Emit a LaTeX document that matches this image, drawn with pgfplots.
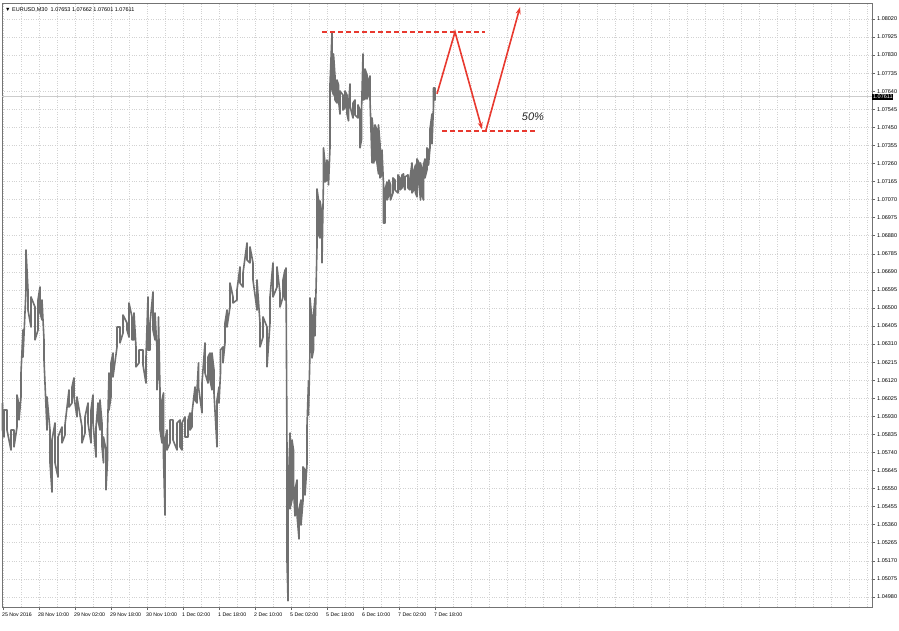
\documentclass[border=0pt]{standalone}
\usepackage{fontspec}
\setmainfont{Liberation Sans}
\usepackage{pgfplots}
\usepackage{pgfplotstable}
\pgfplotsset{compat=1.18}
\usetikzlibrary{arrows.meta}
\definecolor{barc}{HTML}{707070}
\definecolor{ann}{HTML}{E8392F}
\definecolor{grd}{HTML}{D2D2D2}
\pgfplotstableread{
x y
2.5 1.06000
2.5 1.05858
4 1.05821
4 1.05963
7 1.05963
7 1.05858
11 1.05753
11 1.05858
14 1.05858
14 1.05769
17 1.05874
17 1.06042
19 1.05990
19 1.05911
21 1.06032
21 1.06158
23 1.06384
23 1.06242
26 1.06595
26 1.06805
28 1.06595
28 1.06489
31 1.06400
31 1.06558
35 1.06505
35 1.06332
38 1.06384
38 1.06542
40 1.06610
40 1.06474
42 1.06437
42 1.06542
44 1.06332
44 1.06226
47 1.05858
47 1.06032
50 1.05858
50 1.05685
52 1.05532
52 1.05806
55 1.05895
55 1.05685
58 1.05611
58 1.05821
62 1.05874
62 1.05790
65 1.05832
65 1.05885
69 1.06069
69 1.05979
72 1.06000
72 1.06084
74 1.06132
74 1.06032
77 1.05927
77 1.06032
82 1.05874
82 1.05790
85 1.05842
85 1.05927
88 1.06000
88 1.05895
91 1.05790
91 1.05963
93 1.06042
93 1.05895
96 1.05716
96 1.05874
98 1.06000
98 1.05911
100 1.05858
100 1.06016
102 1.05895
102 1.05769
103.5 1.05685
103.5 1.05821
106 1.05753
106 1.05543
107.5 1.05700
107.5 1.05858
109 1.06158
109 1.05963
111 1.06032
111 1.06211
113 1.06263
113 1.06137
117 1.06295
117 1.06400
120 1.06400
120 1.06316
123 1.06368
123 1.06463
127 1.06421
127 1.06384
129 1.06347
129 1.06526
132 1.06453
132 1.06332
134 1.06332
134 1.06474
136 1.06295
136 1.06190
139 1.06211
139 1.06279
143 1.06279
143 1.06200
146 1.06105
146 1.06242
148 1.06558
148 1.06279
150 1.06279
150 1.06421
153 1.06584
153 1.06384
155 1.06332
155 1.06474
157 1.06279
157 1.06069
158.5 1.06174
158.5 1.06453
160 1.06069
160 1.05858
162 1.05790
162 1.06016
163.5 1.06053
163.5 1.05716
165 1.05411
165 1.05806
167 1.05858
167 1.05753
170 1.05790
170 1.05911
173 1.05911
173 1.05806
177 1.05753
177 1.05895
180 1.05911
180 1.05769
182 1.05753
182 1.05895
185 1.05927
185 1.05821
188 1.05821
188 1.05911
190 1.05948
190 1.05858
192 1.05874
192 1.05948
195 1.06084
195 1.06016
197 1.06000
197 1.06069
198.5 1.06211
198.5 1.06084
202 1.05948
202 1.06105
205 1.06316
205 1.06158
208 1.06105
208 1.06242
210 1.06263
210 1.06121
212 1.06069
212 1.06263
214 1.06174
214 1.06053
217 1.05769
217 1.06016
219 1.06084
219 1.06000
220.5 1.06158
220.5 1.06279
223 1.06295
223 1.06211
225 1.06316
225 1.06421
227 1.06489
227 1.06400
230 1.06505
230 1.06631
233 1.06558
233 1.06526
237 1.06542
237 1.06595
240 1.06716
240 1.06631
243 1.06610
243 1.06684
247 1.06842
247 1.06752
250 1.06737
250 1.06821
253 1.06737
253 1.06647
257 1.06489
257 1.06647
260 1.06421
260 1.06295
263 1.06347
263 1.06453
267 1.06400
267 1.06190
270 1.06421
270 1.06558
273 1.06737
273 1.06558
277 1.06610
277 1.06716
280 1.06579
280 1.06505
283 1.06558
283 1.06647
285 1.06700
285 1.06542
286 1.06589
286 1.06710
287 1.05742
287 1.05169
288 1.04959
288 1.05490
290 1.05842
290 1.05443
292 1.05490
292 1.05806
293.5 1.05753
293.5 1.05543
295 1.05406
295 1.05543
297 1.05595
297 1.05411
299 1.05285
299 1.05443
301 1.05490
301 1.05358
303 1.05485
303 1.05664
305 1.05648
305 1.05516
307 1.05679
307 1.05879
308.5 1.06116
308.5 1.05937
310 1.06274
310 1.06553
312 1.06432
312 1.06237
313.5 1.06279
313.5 1.06463
315 1.06553
315 1.06353
317 1.06826
317 1.07126
318.5 1.07068
318.5 1.06884
320 1.06868
320 1.07063
322 1.06989
322 1.06737
323.5 1.07184
323.5 1.07342
325 1.07263
325 1.07163
327 1.07173
327 1.07278
328.5 1.07252
328.5 1.07147
330 1.07342
330 1.07678
332 1.07946
332 1.07647
333.5 1.07620
333.5 1.07836
335 1.07720
335 1.07594
337 1.07578
337 1.07699
338.5 1.07673
338.5 1.07594
340 1.07520
340 1.07641
343 1.07620
343 1.07541
345 1.07552
345 1.07641
347 1.07620
347 1.07520
348.5 1.07484
348.5 1.07562
350 1.07678
350 1.07562
353 1.07499
353 1.07578
355 1.07594
355 1.07515
358 1.07499
358 1.07568
360 1.07541
360 1.07342
361.5 1.07384
361.5 1.07531
363 1.07836
363 1.07594
365 1.07599
365 1.07757
367 1.07726
367 1.07599
368.5 1.07620
368.5 1.07699
370 1.07720
370 1.07599
372 1.07263
372 1.07499
373.5 1.07420
373.5 1.07263
375 1.07278
375 1.07463
377 1.07436
377 1.07263
378.5 1.07205
378.5 1.07463
380 1.07363
380 1.07184
382 1.07200
382 1.07331
383.5 1.07147
383.5 1.06947
385 1.06947
385 1.07121
387 1.07163
387 1.07068
389 1.07094
389 1.07173
390.5 1.07147
390.5 1.07068
393 1.07105
393 1.07184
395 1.07173
395 1.07121
398 1.07105
398 1.07200
400 1.07184
400 1.07121
402 1.07131
402 1.07200
403.5 1.07205
403.5 1.07147
405 1.07121
405 1.07189
408 1.07200
408 1.07131
410 1.07121
410 1.07184
412 1.07263
412 1.07105
414 1.07121
414 1.07226
415.5 1.07252
415.5 1.07105
417 1.07084
417 1.07284
419 1.07263
419 1.07147
420.5 1.07068
420.5 1.07263
422 1.07226
422 1.07094
423.5 1.07068
423.5 1.07252
425 1.07284
425 1.07184
427 1.07226
427 1.07342
428.5 1.07331
428.5 1.07252
430 1.07342
430 1.07442
432 1.07520
432 1.07363
433.5 1.07562
433.5 1.07657
435 1.07657
435 1.07594
435 1.07611
}\pricedata
\begin{document}
\begin{tikzpicture}
\path[use as bounding box, fill=white] (0,0) rectangle (899pt,630pt);
\begin{axis}[
  at={(2pt,23pt)}, anchor=south west,
  scale only axis, width=870pt, height=604pt,
  xmin=2, xmax=872, ymin=1.04927, ymax=1.08104,
  axis line style={black!55, line width=0.9pt},
  tick style={black!60, line width=0.5pt},
  tick align=outside, major tick length=3pt, minor tick length=0pt,
  xtick pos=bottom, ytick pos=right, yticklabel pos=right,
  xtick={3,39,75,111,147,183,219,255,291,327,363,399,435},
  xticklabels={25 Nov 2016,28 Nov 10:00,29 Nov 02:00,29 Nov 18:00,30 Nov 10:00,1 Dec 02:00,1 Dec 18:00,2 Dec 10:00,5 Dec 02:00,5 Dec 18:00,6 Dec 10:00,7 Dec 02:00,7 Dec 18:00},
  minor xtick={3,21,...,867},
  ytick={1.04980,1.05075,1.05170,1.05265,1.05360,1.05455,1.05550,1.05645,1.05740,1.05835,1.05930,1.06025,1.06120,1.06215,1.06310,1.06405,1.06500,1.06595,1.06690,1.06785,1.06880,1.06975,1.07070,1.07165,1.07260,1.07355,1.07450,1.07545,1.07640,1.07735,1.07830,1.07925,1.08020},
  yticklabels={1.04980,1.05075,1.05170,1.05265,1.05360,1.05455,1.05550,1.05645,1.05740,1.05835,1.05930,1.06025,1.06120,1.06215,1.06310,1.06405,1.06500,1.06595,1.06690,1.06785,1.06880,1.06975,1.07070,1.07165,1.07260,1.07355,1.07450,1.07545,1.07640,1.07735,1.07830,1.07925,1.08020},
  scaled y ticks=false,
  xmajorgrids=false, xminorgrids=true, ymajorgrids=true,
  major grid style={grd, dash pattern=on 0.8pt off 1.6pt, line width=0.5pt},
  minor grid style={grd, dash pattern=on 0.8pt off 1.6pt, line width=0.5pt},
  xticklabel style={font=\fontsize{5.2}{6}\selectfont, anchor=north west, inner sep=0pt, xshift=-1pt, yshift=-3pt},
  yticklabel style={font=\fontsize{5.5}{6}\selectfont, anchor=west, inner sep=0pt, xshift=2pt},
  clip=false,
]
\addplot[no marks, black!20, line width=0.6pt] coordinates {(2,1.07611) (872,1.07611)};
\addplot[no marks, barc, line width=1.6pt, line join=round] table[x=x,y=y] {\pricedata};
% annotations
\addplot[no marks, ann, line width=1.3pt, dash pattern=on 5pt off 3pt] coordinates {(322,1.07952) (485,1.07952)};
\addplot[no marks, ann, line width=1.3pt, dash pattern=on 5pt off 3pt] coordinates {(442,1.07431) (537,1.07431)};
\addplot[no marks, ann, line width=1.6pt, -{Stealth[length=7pt,width=5pt]}] coordinates {(437,1.07626) (455,1.07952) (482,1.07440)};
\addplot[no marks, ann, line width=1.6pt, -{Stealth[length=7pt,width=5pt]}] coordinates {(486,1.07436) (520,1.08082)};
\node[font=\itshape\fontsize{11}{12}\selectfont, black!85] at (axis cs:533,1.07505) {50\%};
\node[fill=black, text=white, font=\fontsize{5.5}{6}\selectfont, inner sep=0.9pt, anchor=west] at (axis cs:872,1.07611) {1.07611};
\node[font=\fontsize{5.5}{6}\selectfont, anchor=north west, inner sep=0pt] at (rel axis cs:0,1) [xshift=3pt, yshift=-4pt] {▼ EURUSD,M30\ \ 1.07653 1.07662 1.07601 1.07611};
\end{axis}
\end{tikzpicture}
\end{document}
